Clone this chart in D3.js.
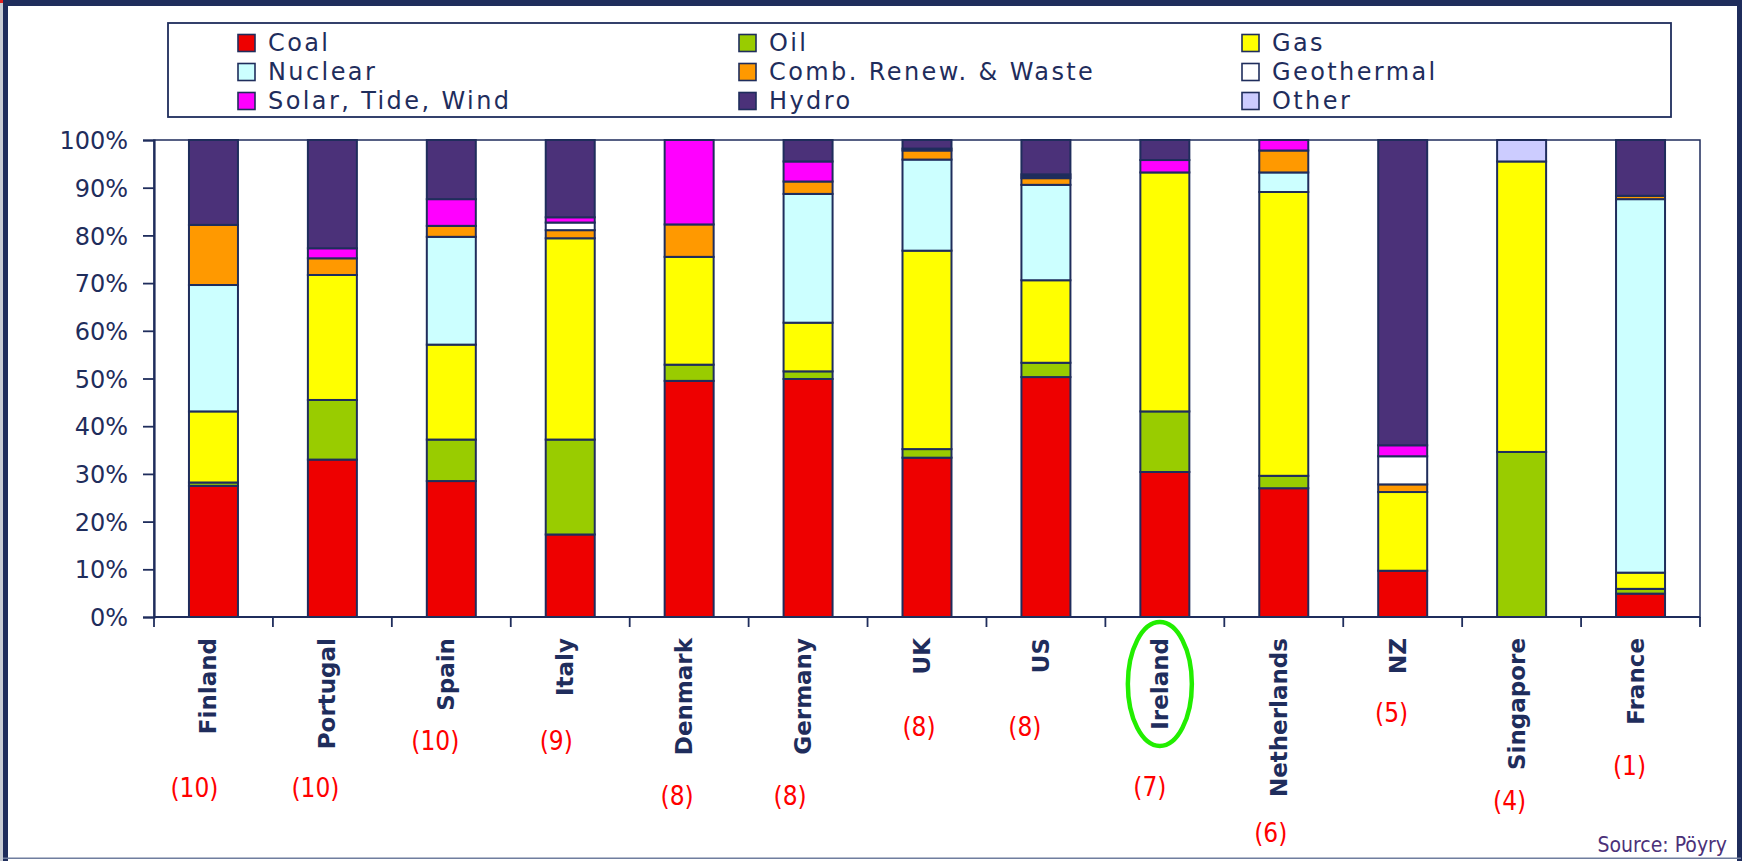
<!DOCTYPE html>
<html><head><meta charset="utf-8">
<script src="https://cdn.jsdelivr.net/npm/d3@7"></script>
<style>
html,body{margin:0;padding:0;background:#fff;}
svg{display:block;}
text{font-family:"DejaVu Sans",Verdana,sans-serif;}
</style></head>
<body>
<script>
// ---- data ----
const categories = ["Finland","Portugal","Spain","Italy","Denmark","Germany","UK","US","Ireland","Netherlands","NZ","Singapore","France"];
const ranks = ["(10)","(10)","(10)","(9)","(8)","(8)","(8)","(8)","(7)","(6)","(5)","(4)","(1)"];
const seriesNames = ["Coal","Oil","Gas","Nuclear","Comb. Renew. & Waste","Geothermal","Solar, Tide, Wind","Hydro","Other"];
const coal          = [27.5,33.0,28.5,17.3,49.5,49.9,33.4,50.3,30.4,27.0, 9.7, 0.0, 4.9];
const oil           = [ 0.7,12.5, 8.7,19.9, 3.4, 1.6, 1.8, 3.0,12.7, 2.6, 0.0,34.6, 1.0];
const gas           = [14.9,26.2,19.9,42.2,22.6,10.2,41.6,17.3,50.1,59.5,16.5,60.9, 3.4];
const nuclear       = [26.5, 0.0,22.6, 0.0, 0.0,27.0,19.1,20.0, 0.0, 4.1, 0.0, 0.0,78.3];
const combRenew     = [12.6, 3.5, 2.3, 1.7, 6.8, 2.6, 1.9, 1.4, 0.0, 4.6, 1.6, 0.0, 0.7];
const geothermal    = [ 0.0, 0.0, 0.0, 1.6, 0.0, 0.0, 0.0, 0.4, 0.0, 0.0, 5.9, 0.0, 0.0];
const solarTideWind = [ 0.0, 2.1, 5.6, 1.1,17.7, 4.2, 0.4, 0.4, 2.6, 2.2, 2.3, 0.0, 0.0];
const hydro         = [17.8,22.7,12.4,16.2, 0.0, 4.5, 1.8, 7.2, 4.2, 0.0,64.0, 0.0,11.7];
const other         = [ 0.0, 0.0, 0.0, 0.0, 0.0, 0.0, 0.0, 0.0, 0.0, 0.0, 0.0, 4.5, 0.0];
const yTickValues = [0,10,20,30,40,50,60,70,80,90,100];
const sourceText = "Source: Pöyry";
const highlighted = "Ireland";

// ---- styles / layout ----
const colors = ["#ee0000","#99cc00","#ffff00","#ccffff","#ff9900","#ffffff","#ff00ff","#4b3179","#ccccff"];
const navy = "#1f2d5c";
const W = 1744, H = 861;
const M = {left:154, right:1700, top:140, bottom:617};
// rank label offsets (dx from band centre, absolute y)
const rankLayout = [[-19,788],[-17,788],[-16,741],[-14,741],[-12,796],[-18,796],[-8,727],[-21,727],[-15,787],[-13,833],[-11,713],[-12,801],[-11,766]];

const seriesValues = [coal,oil,gas,nuclear,combRenew,geothermal,solarTideWind,hydro,other];
const rows = categories.map((c,i)=>{
  const r = {cat:c};
  seriesNames.forEach((s,j)=>{ r[s] = seriesValues[j][i]; });
  return r;
});

const svg = d3.select("body").append("svg").attr("width",W).attr("height",H);

// outer frame
svg.append("rect").attr("x",0).attr("y",0).attr("width",3).attr("height",H).attr("fill","#c8ccd4");
svg.append("rect").attr("x",0).attr("y",0).attr("width",14).attr("height",3).attr("fill","#e02020");
svg.append("rect").attr("x",3).attr("y",0).attr("width",W-6).attr("height",6).attr("fill",navy);
svg.append("rect").attr("x",3).attr("y",0).attr("width",5).attr("height",H).attr("fill",navy);
svg.append("rect").attr("x",W-7).attr("y",0).attr("width",5).attr("height",H).attr("fill",navy);
svg.append("rect").attr("x",3).attr("y",H-3.5).attr("width",W-6).attr("height",1.5).attr("fill","#6f7d9e");

// scales
const stepPad = 0.588;
const x = d3.scaleBand().domain(categories).range([M.left,M.right]).paddingInner(stepPad).paddingOuter(stepPad/2);
const y = d3.scaleLinear().domain([0,100]).range([M.bottom,M.top]);

const stack = d3.stack().keys(seriesNames).offset(d3.stackOffsetExpand);
const stacked = stack(rows);

// plot border
svg.append("rect").attr("x",M.left).attr("y",M.top).attr("width",M.right-M.left).attr("height",M.bottom-M.top)
  .attr("fill","none").attr("stroke",navy).attr("stroke-width",1.5);

// bars
const g = svg.append("g");
stacked.forEach((layer,j)=>{
  g.selectAll(null).data(layer.filter(d=>d[1]-d[0]>1e-6)).enter().append("rect")
    .attr("x",d=>x(d.data.cat))
    .attr("width",x.bandwidth())
    .attr("y",d=>y(d[1]*100))
    .attr("height",d=>y(d[0]*100)-y(d[1]*100))
    .attr("fill",colors[j])
    .attr("stroke",navy).attr("stroke-width",2);
});

// y axis
const yAxis = d3.axisLeft(y).tickValues(yTickValues).tickFormat(d=>d+"%").tickSize(11).tickPadding(15);
const ya = svg.append("g").attr("transform",`translate(${M.left},0)`).call(yAxis);
ya.select(".domain").attr("stroke",navy).attr("stroke-width",2.2);
ya.selectAll(".tick line").attr("stroke",navy).attr("stroke-width",1.8);
ya.selectAll(".tick text").attr("fill",navy).style("font-size","24px").style("font-family","DejaVu Sans").attr("dy","0.36em");

// x axis: ticks at category boundaries
const bounds = d3.range(categories.length+1).map(i=>M.left + i*x.step());
svg.append("line").attr("x1",M.left).attr("x2",M.right).attr("y1",M.bottom).attr("y2",M.bottom).attr("stroke",navy).attr("stroke-width",2.2);
svg.selectAll(null).data(bounds).enter().append("line")
  .attr("x1",d=>d).attr("x2",d=>d).attr("y1",M.bottom).attr("y2",M.bottom+10)
  .attr("stroke",navy).attr("stroke-width",1.8);

// category labels
svg.selectAll(null).data(categories).enter().append("text")
  .attr("transform",d=>`translate(${x(d)+x.bandwidth()/2-5},638) rotate(-90)`)
  .attr("text-anchor","end").attr("dominant-baseline","central")
  .attr("fill",navy).style("font-size","23px").style("font-weight","bold")
  .text(d=>d);

// rank labels
svg.selectAll(null).data(ranks).enter().append("text")
  .attr("x",(d,i)=>x(categories[i])+x.bandwidth()/2+rankLayout[i][0])
  .attr("y",(d,i)=>rankLayout[i][1])
  .attr("text-anchor","middle").attr("dominant-baseline","central")
  .attr("fill","#ff0000").style("font-size","26px")
  .style("font-family","'DejaVu Sans Condensed','DejaVu Sans',sans-serif").style("font-stretch","condensed")
  .text(d=>d);

// highlight ellipse
svg.append("ellipse").attr("cx",x(highlighted)+x.bandwidth()/2-5).attr("cy",684).attr("rx",32).attr("ry",62)
  .attr("fill","none").attr("stroke","#22ee00").attr("stroke-width",4.5);

// legend
svg.append("rect").attr("x",168).attr("y",23).attr("width",1503).attr("height",94)
  .attr("fill","#fff").attr("stroke",navy).attr("stroke-width",1.8);
const colX = [238,739,1242];
const rowY = [43,72,101];
seriesNames.forEach((s,j)=>{
  const cx = colX[j%3], cy = rowY[Math.floor(j/3)];
  svg.append("rect").attr("x",cx).attr("y",cy-8.5).attr("width",17).attr("height",17)
    .attr("fill",colors[j]).attr("stroke",navy).attr("stroke-width",1.6);
  svg.append("text").attr("x",cx+30).attr("y",cy).attr("dominant-baseline","central")
    .attr("fill",navy).style("font-size","24px").style("letter-spacing","2.4px").text(s);
});

// source
svg.append("text").attr("x",1727).attr("y",845).attr("text-anchor","end").attr("dominant-baseline","central")
  .attr("fill","#4b3179").style("font-size","21px")
  .style("font-family","'DejaVu Sans Condensed','DejaVu Sans',sans-serif").style("font-stretch","condensed")
  .text(sourceText);
</script>
</body></html>
